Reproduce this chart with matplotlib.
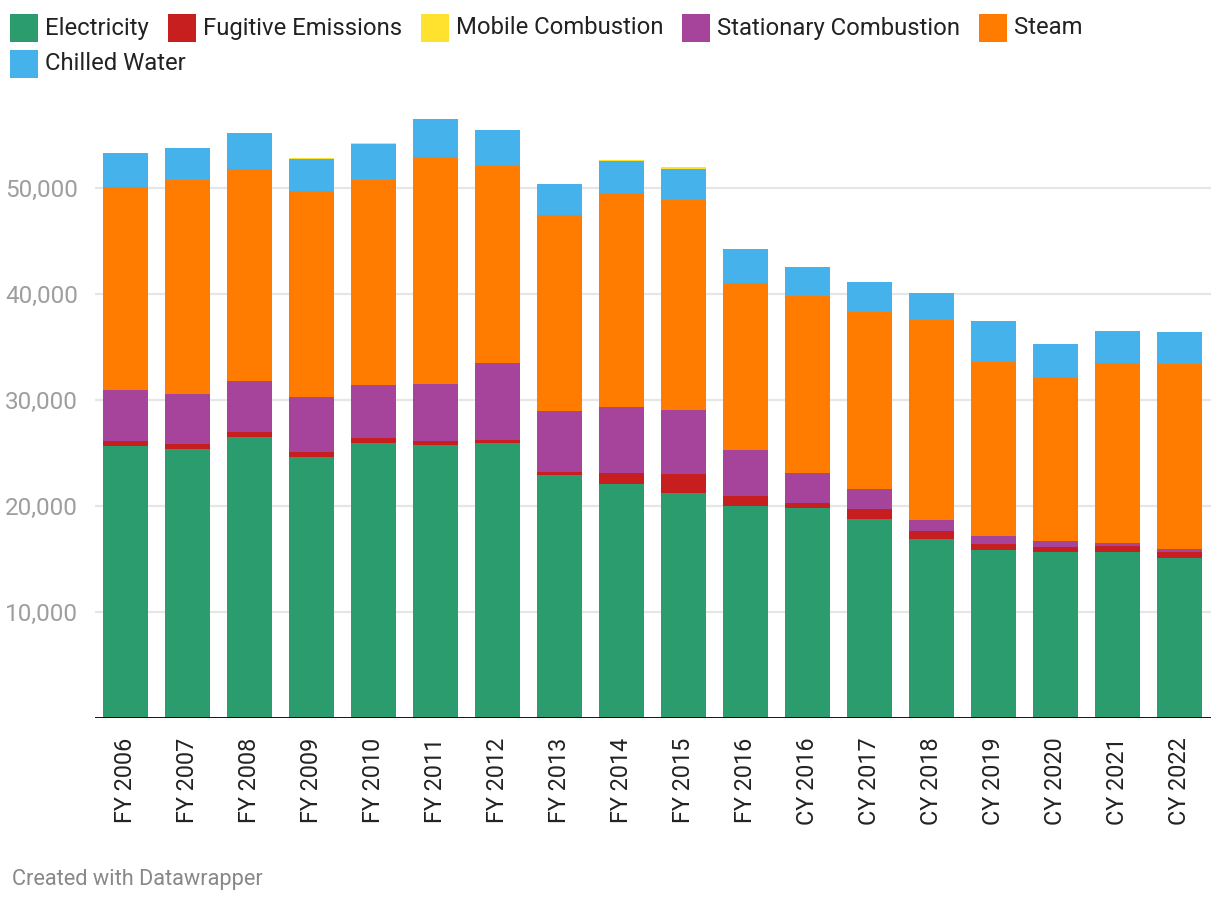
import matplotlib.pyplot as plt
from matplotlib.patches import Rectangle
from matplotlib.ticker import FuncFormatter
import numpy as np

plt.rcParams['font.family'] = ['Roboto', 'DejaVu Sans']

years = ['FY 2006', 'FY 2007', 'FY 2008', 'FY 2009', 'FY 2010', 'FY 2011', 'FY 2012',
         'FY 2013', 'FY 2014', 'FY 2015', 'FY 2016', 'CY 2016', 'CY 2017', 'CY 2018',
         'CY 2019', 'CY 2020', 'CY 2021', 'CY 2022']

electricity = [25630, 25350, 26480, 24600, 25920, 25730, 25920, 22900, 22050, 21200,
               19970, 19780, 18750, 16860, 15820, 15630, 15630, 15070]
fugitive = [470, 470, 470, 470, 470, 370, 280, 280, 1030, 1790,
            950, 480, 940, 750, 570, 470, 570, 560]
mobile = [0, 0, 0, 110, 100, 0, 0, 0, 100, 190,
          0, 0, 0, 0, 0, 0, 0, 0]
stationary = [4840, 4720, 4810, 5180, 5000, 5380, 7260, 5750, 6230, 6040,
              4330, 2820, 1890, 1040, 750, 570, 280, 290]
steam = [19130, 20210, 20000, 19440, 19360, 21420, 18620, 18490, 20190, 19840,
         15760, 16730, 16720, 18900, 16440, 15470, 16980, 17480]
chilled = [3200, 2990, 3400, 3010, 3370, 3580, 3360, 2930, 3020, 2890,
           3210, 2710, 2800, 2510, 3840, 3110, 3020, 2990]

legend_names = ['Electricity', 'Fugitive Emissions', 'Mobile Combustion',
                'Stationary Combustion', 'Steam', 'Chilled Water']
colors = {'Electricity': '#2b9c6e', 'Fugitive Emissions': '#c71f1f',
          'Mobile Combustion': '#ffe22e', 'Stationary Combustion': '#a6449c',
          'Steam': '#ff7c00', 'Chilled Water': '#45b2eb'}

# stacking order as it appears in the bars (mobile sits on top)
stack = [('Electricity', electricity), ('Fugitive Emissions', fugitive),
         ('Stationary Combustion', stationary), ('Steam', steam),
         ('Chilled Water', chilled), ('Mobile Combustion', mobile)]

W, H = 1220, 906
fig = plt.figure(figsize=(W / 100, H / 100), dpi=100)
ax = fig.add_axes([94.5 / W, (H - 718) / H, (1210.5 - 94.5) / W, 608 / H])

x = np.arange(len(years))
bottom = np.zeros(len(years))
for name, vals in stack:
    vals = np.array(vals, dtype=float)
    ax.bar(x, vals, width=0.73, bottom=bottom, color=colors[name], linewidth=0, zorder=2)
    bottom += vals

ax.set_xlim(-0.5, len(years) - 0.5)
ax.set_ylim(0, 57360)
ax.set_yticks([10000, 20000, 30000, 40000, 50000])
ax.yaxis.set_major_formatter(FuncFormatter(lambda v, p: f'{int(v):,}'))
ax.grid(axis='y', color='#e6e6e6', linewidth=1.6, zorder=0)
ax.axhline(0, color='#000000', linewidth=2, zorder=3)
for s in ax.spines.values():
    s.set_visible(False)
ax.tick_params(axis='y', length=0, pad=12, labelsize=17.5, labelcolor='#9e9e9e')
ax.tick_params(axis='x', length=0, pad=14, labelsize=16.8, labelcolor='#222222')
ax.set_xticks(x)
ax.set_xticklabels(years, rotation=90)

# legend drawn by hand to match the wrapped layout
renderer = fig.canvas.get_renderer()
lx, ly = 10, 14
for name in legend_names:
    t = fig.text(0, 0, name, fontsize=17.2, color='#222222', va='center', ha='left')
    tw = t.get_window_extent(renderer).width
    if lx + 35 + tw > 1215:
        lx = 10
        ly += 36
    fig.add_artist(Rectangle((lx / W, 1 - (ly + 28) / H), 28 / W, 28 / H,
                             transform=fig.transFigure, color=colors[name], linewidth=0))
    t.set_position(((lx + 35) / W, 1 - (ly + 14) / H))
    lx += 35 + tw + 19

fig.text(12 / W, 1 - 880 / H, 'Created with Datawrapper', fontsize=15.7,
         color='#888888', va='center', ha='left')

fig.savefig('out.png', dpi=100)
